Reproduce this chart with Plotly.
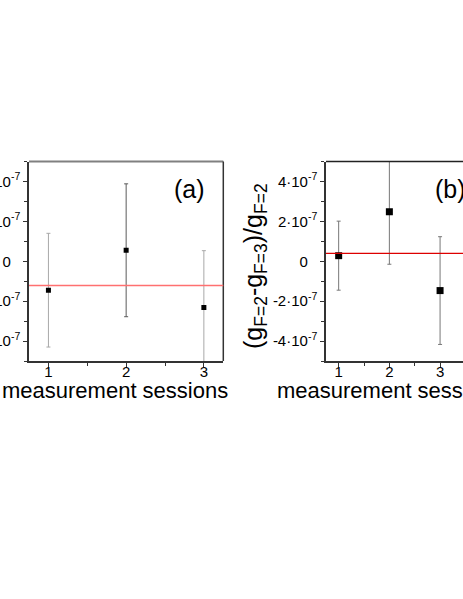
import plotly.graph_objects as go

# measurement sessions and fractional g-factor differences
sessions = [1, 2, 3]

a_values = [-1.45e-7, 0.55e-7, -2.32e-7]
a_errors = [2.85e-7, 3.33e-7, 2.85e-7]
a_err_colors = ["#a8a8a8", "#5a5a5a", "#a8a8a8"]
a_mean = -1.22e-7

b_values = [0.28e-7, 2.48e-7, -1.47e-7]
b_errors = [1.73e-7, 2.63e-7, 2.70e-7]
b_mean = 0.39e-7

y_tickvals = [-4e-7, -2e-7, 0, 2e-7, 4e-7]
hidden = "<sup><span style='color:rgba(0,0,0,0)'>-7</span></sup>"
y_ticktext = ["-4·10<sup>-7</sup>", "-2·10<sup>-7</sup>", "0" + hidden,
              "2·10<sup>-7</sup>", "4·10<sup>-7</sup>"]
x_tickvals = [1, 2, 3]

W, H = 463, 599
FONT = "Arial, Liberation Sans, sans-serif"


def px(x):
    return x / W


def py(y):
    return 1 - y / H


fig = go.Figure()

# panel (a): one trace per point so each error bar keeps its own grey
for s, v, e, c in zip(sessions, a_values, a_errors, a_err_colors):
    fig.add_trace(go.Scatter(
        x=[s], y=[v], mode="markers", xaxis="x", yaxis="y",
        marker=dict(symbol="square", size=5, color="black"),
        error_y=dict(type="data", array=[e], color=c, thickness=1, width=2),
        showlegend=False))

# panel (b)
fig.add_trace(go.Scatter(
    x=sessions, y=b_values, mode="markers", xaxis="x2", yaxis="y2",
    marker=dict(symbol="square", size=7, color="black"),
    error_y=dict(type="data", array=b_errors, color="#777777", thickness=1, width=2),
    showlegend=False))

y_top, y_bot = py(161.5), py(361)

axis_common = dict(
    showline=True, linecolor="#333333", linewidth=1.5, mirror=False,
    ticks="outside", ticklen=4, tickwidth=1, tickcolor="#333333",
    showgrid=False, zeroline=False, automargin=False,
    tickfont=dict(family=FONT, size=15, color="black"),
)
x_minor = dict(dtick=0.5, tick0=0.5, ticks="outside", ticklen=3, tickcolor="#333333")
y_minor = dict(dtick=1e-7, tick0=0, ticks="outside", ticklen=3, tickcolor="#333333")

fig.update_layout(
    width=W, height=H,
    margin=dict(l=0, r=0, t=0, b=0),
    paper_bgcolor="white", plot_bgcolor="white",
    template="none",
    xaxis=dict(axis_common, domain=[px(29), px(223.3)], range=[0.75, 3.25],
               tickvals=x_tickvals, anchor="y", ticklabelstandoff=-8,
               minor=x_minor),
    yaxis=dict(axis_common, domain=[y_bot, y_top], range=[-5e-7, 5e-7],
               tickvals=y_tickvals, ticktext=y_ticktext, anchor="x",
               minor=y_minor),
    xaxis2=dict(axis_common, domain=[px(326), 1.0],
                range=[0.75, 0.75 + (463 - 326) / 50.7],
                tickvals=x_tickvals, anchor="y2", ticklabelstandoff=-8,
                minor=x_minor),
    yaxis2=dict(axis_common, domain=[y_bot, y_top], range=[-5e-7, 5e-7],
                tickvals=y_tickvals, ticktext=y_ticktext, anchor="x2",
                minor=y_minor),
)

# frame lines and mean lines
fig.add_shape(type="line", xref="x domain", yref="y domain",
              x0=0, x1=1, y0=1, y1=1, line=dict(color="#808080", width=2))
fig.add_shape(type="line", xref="x domain", yref="y domain",
              x0=1, x1=1, y0=0, y1=1, line=dict(color="#333333", width=1.5))
fig.add_shape(type="line", xref="x2 domain", yref="y2 domain",
              x0=0, x1=1, y0=1, y1=1, line=dict(color="#222222", width=1.5))
fig.add_shape(type="line", xref="x domain", yref="y",
              x0=0, x1=1, y0=a_mean, y1=a_mean, line=dict(color="#ff7070", width=1.5))
fig.add_shape(type="line", xref="x2 domain", yref="y2",
              x0=0, x1=1, y0=b_mean, y1=b_mean, line=dict(color="#dd0000", width=1.2))

# labels
fig.add_annotation(text="(a)", xref="paper", yref="paper", x=px(189), y=py(189),
                   xanchor="center", yanchor="middle", showarrow=False,
                   font=dict(family=FONT, size=25, color="black"))
fig.add_annotation(text="(b)", xref="paper", yref="paper", x=px(433), y=py(189),
                   xanchor="left", yanchor="middle", showarrow=False,
                   font=dict(family=FONT, size=25, color="black"))
fig.add_annotation(text="measurement sessions", xref="paper", yref="paper",
                   x=px(114.5), y=py(391), xanchor="center", yanchor="middle",
                   showarrow=False, font=dict(family=FONT, size=22, color="black"))
fig.add_annotation(text="measurement sessions", xref="paper", yref="paper",
                   x=px(275), y=py(391), xanchor="left", yanchor="middle",
                   showarrow=False, font=dict(family=FONT, size=22, color="black"))
fig.add_annotation(text="(g<sub>F=2</sub>-g<sub>F=3</sub>)/g<sub>F=2</sub>",
                   xref="paper", yref="paper", x=px(255), y=py(266),
                   xanchor="center", yanchor="middle", textangle=-90,
                   showarrow=False, font=dict(family=FONT, size=25, color="black"))

fig.write_html("out.html", config={"displayModeBar": False},
               post_script="document.body.style.margin='0';")
